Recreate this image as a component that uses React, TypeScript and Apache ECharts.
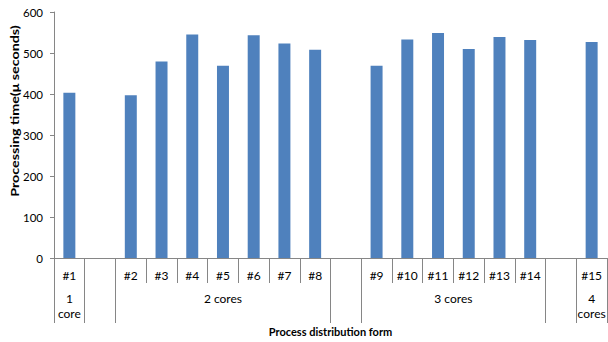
import React, { useEffect, useRef } from "react";
import * as echarts from "echarts";

// One slot per category; empty strings are spacer slots between core groups.
const categories = [
  "#1", "", "#2", "#3", "#4", "#5", "#6", "#7", "#8", "",
  "#9", "#10", "#11", "#12", "#13", "#14", "", "#15",
];
const processingTime: (number | null)[] = [
  403, null, 397, 479, 545, 469, 543, 523, 508, null,
  469, 533, 549, 510, 539, 532, null, 527,
];
// Second-level groups along the category axis (number of slots each spans).
const groupNames = ["1 core", "", "2 cores", "", "3 cores", "", "4 cores"];
const groupSizes = [1, 1, 7, 1, 6, 1, 1];
const yTicks = [0, 100, 200, 300, 400, 500, 600];

const FONT = "Lato, 'Open Sans', sans-serif";
const AXIS_GRAY = "#868686";

export default function App() {
  const ref = useRef<HTMLDivElement>(null);

  useEffect(() => {
    if (!ref.current) return;
    const chart = echarts.init(ref.current, undefined, { renderer: "svg" });

    // Group boundaries and centres in slot units.
    const bounds: number[] = [0];
    groupSizes.forEach((s) => bounds.push(bounds[bounds.length - 1] + s));
    const centres = groupSizes.map((s, i) => bounds[i] + s / 2);
    const nameAt = (v: number) => {
      const i = centres.findIndex((c) => Math.abs(c - v) < 1e-6);
      if (i < 0) return "";
      const n = groupNames[i];
      return groupSizes[i] === 1 ? n.replace(" ", "\n") : n;
    };

    chart.setOption({
      animation: false,
      grid: {
        left: 54,
        right: 1,
        top: 12,
        bottom: 84,
        outerBoundsMode: "none",
        containLabel: false,
      },
      // Vertical axis title, stretched along its length.
      graphic: [
        {
          type: "text",
          x: 15,
          y: 111,
          rotation: Math.PI / 2,
          scaleX: 1.3,
          style: {
            text: "Processing time(\u03bc seconds)",
            fill: "#000",
            font: `bold 11px ${FONT}`,
            align: "center",
            verticalAlign: "middle",
          },
        },
      ],
      xAxis: [
        {
          type: "category",
          data: categories,
          boundaryGap: true,
          position: "bottom",
          axisLine: { show: true, lineStyle: { color: AXIS_GRAY, width: 1 } },
          axisTick: {
            show: true,
            interval: 0,
            length: 25,
            alignWithLabel: false,
            lineStyle: { color: AXIS_GRAY },
          },
          axisLabel: {
            interval: 0,
            margin: 11,
            color: "#000",
            fontFamily: FONT,
            fontSize: 12,
          },
        },
        {
          type: "value",
          min: 0,
          max: categories.length,
          position: "bottom",
          axisLine: { show: false },
          splitLine: { show: false },
          axisTick: {
            show: true,
            customValues: bounds,
            length: 65,
            lineStyle: { color: AXIS_GRAY },
          },
          axisLabel: {
            show: true,
            customValues: centres,
            formatter: (v: number) => nameAt(v),
            margin: 33,
            lineHeight: 15,
            verticalAlign: "top",
            color: "#000",
            fontFamily: FONT,
            fontSize: 12,
          },
          name: "Process distribution form",
          nameLocation: "middle",
          nameGap: 61,
          nameTextStyle: {
            color: "#000",
            fontFamily: FONT,
            fontSize: 11,
            fontWeight: "bold",
            verticalAlign: "top",
          },
        },
      ],
      yAxis: {
        type: "value",
        min: yTicks[0],
        max: yTicks[yTicks.length - 1],
        interval: 100,
        axisLine: { show: true, lineStyle: { color: AXIS_GRAY, width: 1 } },
        axisTick: { show: true, length: 4, lineStyle: { color: AXIS_GRAY } },
        splitLine: { show: false },
        axisLabel: {
          margin: 11,
          color: "#000",
          fontFamily: FONT,
          fontSize: 11.5,
        },
      },
      series: [
        {
          type: "bar",
          data: processingTime,
          xAxisIndex: 0,
          barWidth: "39%",
          itemStyle: { color: "#4F81BD" },
        },
      ],
    });

    return () => chart.dispose();
  }, []);

  return (
    <div
      ref={ref}
      style={{ position: "absolute", left: 0, top: 0, width: 608, height: 342 }}
    />
  );
}
